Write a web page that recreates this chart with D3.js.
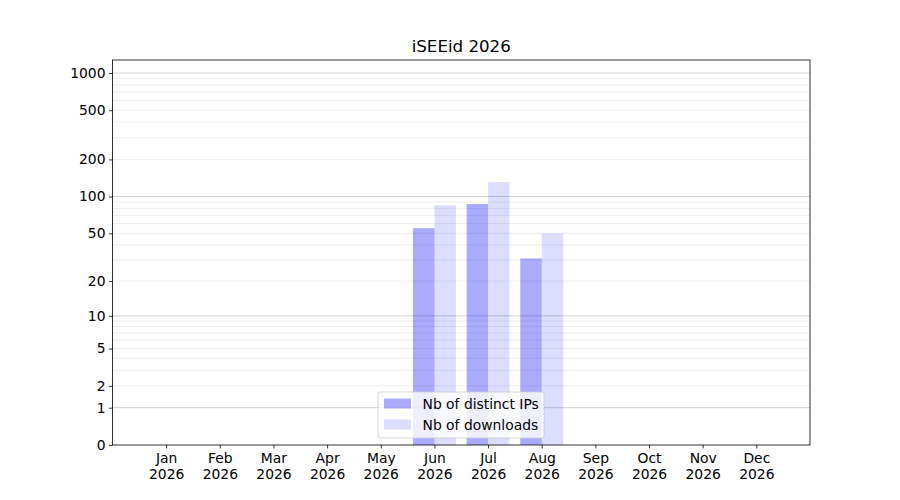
<!DOCTYPE html>
<html>
<head>
<meta charset="utf-8">
<script src="https://cdn.jsdelivr.net/npm/d3@7"></script>
<style>
  body { margin: 0; background: #fff; }
  text { font-family: "DejaVu Sans", sans-serif; fill: #000; }
</style>
</head>
<body>
<svg id="chart" width="900" height="500"></svg>
<script>
// chart data
const months = ["Jan", "Feb", "Mar", "Apr", "May", "Jun", "Jul", "Aug", "Sep", "Oct", "Nov", "Dec"];
const year = "2026";
const distinct_ips = [0, 0, 0, 0, 0, 55, 87, 31, 0, 0, 0, 0];
const downloads    = [0, 0, 0, 0, 0, 85, 131, 50, 0, 0, 0, 0];
const y_ticks = [0, 1, 2, 5, 10, 20, 50, 100, 200, 500, 1000];
const y_major = [1, 10, 100, 1000];
const y_minor = [2, 3, 4, 5, 6, 7, 8, 9, 20, 30, 40, 50, 60, 70, 80, 90, 200, 300, 400, 500, 600, 700, 800, 900];
const y_top = 1273;

const margin = {top: 60, right: 90, bottom: 55, left: 112.5};
const width = 900 - margin.left - margin.right;
const height = 500 - margin.top - margin.bottom;
const fs = "13.89px";

const svg = d3.select("#chart");
const g = svg.append("g")
    .attr("transform", "translate(" + margin.left + "," + margin.top + ")");

const x = d3.scaleLinear().domain([0, 13]).range([0, width]);
// log(1+x) scale
const y = d3.scaleSymlog().constant(1).domain([0, y_top]).range([height, 0]);
const barW = 0.4;

// grid
g.append("g").selectAll("line").data(y_minor).enter().append("line")
    .attr("x1", 0).attr("x2", width)
    .attr("y1", d => y(d)).attr("y2", d => y(d))
    .attr("stroke", "#ebebeb").attr("stroke-width", 0.8);
g.append("g").selectAll("line").data(y_major).enter().append("line")
    .attr("x1", 0).attr("x2", width)
    .attr("y1", d => y(d)).attr("y2", d => y(d))
    .attr("stroke", "#c8c8c8").attr("stroke-width", 0.8);

// bars
g.append("g").selectAll("rect").data(distinct_ips).enter().append("rect")
    .attr("x", (d, i) => x(i + 1 - barW))
    .attr("width", x(barW) - x(0))
    .attr("y", d => y(d))
    .attr("height", d => height - y(d))
    .attr("fill", "#0000ff").attr("fill-opacity", 0.333);
g.append("g").selectAll("rect").data(downloads).enter().append("rect")
    .attr("x", (d, i) => x(i + 1))
    .attr("width", x(barW) - x(0))
    .attr("y", d => y(d))
    .attr("height", d => height - y(d))
    .attr("fill", "#0000ff").attr("fill-opacity", 0.135);

// axes
const xAxis = g.append("g")
    .attr("transform", "translate(0," + height + ")")
    .call(d3.axisBottom(x).tickValues(d3.range(1, 13)).tickSize(3.5).tickPadding(3.5).tickFormat(""));
xAxis.selectAll(".tick").append("text")
    .attr("y", 17.5).attr("text-anchor", "middle").attr("font-size", fs)
    .text((d) => months[d - 1]);
xAxis.selectAll(".tick").append("text")
    .attr("y", 33.5).attr("text-anchor", "middle").attr("font-size", fs)
    .text(year);

const yAxis = g.append("g")
    .call(d3.axisLeft(y).tickValues(y_ticks).tickSize(3.5).tickPadding(3.5).tickFormat(d3.format("d")));
yAxis.selectAll("text").attr("font-size", fs).attr("font-family", "DejaVu Sans").attr("fill", "#000");

[xAxis, yAxis].forEach(a => {
    a.select(".domain").remove();
    a.selectAll("line").attr("stroke", "#000").attr("stroke-width", 0.8);
});

// frame
g.append("rect")
    .attr("width", width).attr("height", height)
    .attr("fill", "none").attr("stroke", "#000").attr("stroke-width", 0.8);

// title
g.append("text")
    .attr("x", width / 2).attr("y", -8.5)
    .attr("text-anchor", "middle").attr("font-size", "16.67px")
    .text("iSEEid " + year);

// legend
const legend = g.append("g").attr("transform", "translate(265.5,332)");
legend.append("rect")
    .attr("width", 166).attr("height", 46).attr("rx", 2.5)
    .attr("fill", "#fff").attr("fill-opacity", 0.8)
    .attr("stroke", "#cccccc").attr("stroke-width", 0.8);
const entries = [
    {label: "Nb of distinct IPs", op: 0.333},
    {label: "Nb of downloads", op: 0.135}
];
entries.forEach(function(e, i) {
    legend.append("rect")
        .attr("x", 6).attr("y", 6.5 + i * 21).attr("width", 27).attr("height", 10)
        .attr("fill", "#0000ff").attr("fill-opacity", e.op);
    legend.append("text")
        .attr("x", 44.5).attr("y", 16.5 + i * 21).attr("font-size", fs)
        .text(e.label);
});
</script>
</body>
</html>
